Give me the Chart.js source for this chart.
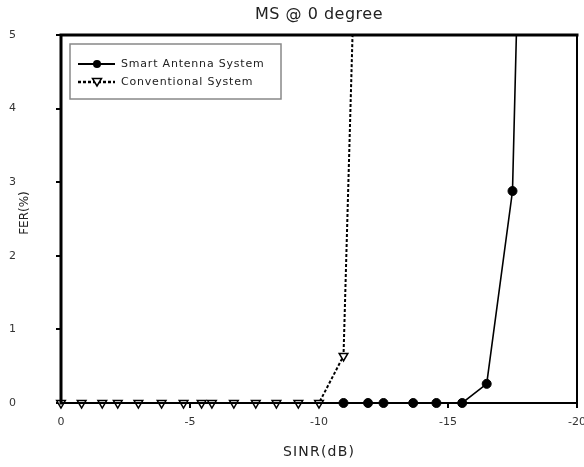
<!DOCTYPE html>
<html><head><meta charset="utf-8">
<script src="https://cdn.jsdelivr.net/npm/chart.js@4.4.0/dist/chart.umd.min.js"></script>
<style>html,body{margin:0;padding:0;background:#fff}#wrap{width:584px;height:467px;position:relative}</style>
</head><body><div id="wrap"><canvas id="c" width="584" height="467"></canvas></div>
<script>
const chartTitle = 'MS @ 0 degree';
const xTitle = 'SINR(dB)';
const yTitle = 'FER(%)';
const seriesNames = ['Smart Antenna System', 'Conventional System'];
const smartX = [-10.95, -11.9, -12.5, -13.65, -14.55, -15.55, -16.5, -17.5, -17.65];
const smartY = [0, 0, 0, 0, 0, 0, 0.26, 2.88, 5];
const convX = [0, -0.8, -1.6, -2.2, -3.0, -3.9, -4.75, -5.45, -5.85, -6.7, -7.55, -8.35, -9.2, -10.0, -10.95, -11.3];
const convY = [0, 0, 0, 0, 0, 0, 0, 0, 0, 0, 0, 0, 0, 0, 0.64, 5];
const xTicks = [0, -5, -10, -15, -20];
const yTicks = [0, 1, 2, 3, 4, 5];

const FONT = "'DejaVu Sans', sans-serif";
const toPts = (xs, ys) => xs.map((x, i) => ({x: x, y: ys[i]}));
const hideTop = c => (c.raw && c.raw.y >= 5) ? 0 : undefined;
const zeroPad = s => { s.paddingTop = 0; s.paddingBottom = 0; s.paddingLeft = 0; s.paddingRight = 0; };

const deco = {
  id: 'deco',
  afterDatasetsDraw(chart) {
    const {ctx, chartArea: a} = chart;
    ctx.save();
    ctx.strokeStyle = '#000';
    ctx.lineCap = 'square';
    ctx.lineWidth = 3;
    ctx.beginPath(); ctx.moveTo(a.left, a.bottom); ctx.lineTo(a.left, a.top); ctx.lineTo(a.right, a.top); ctx.stroke();
    ctx.lineWidth = 2;
    ctx.beginPath(); ctx.moveTo(a.left, a.bottom); ctx.lineTo(a.right, a.bottom); ctx.lineTo(a.right, a.top); ctx.stroke();
    ctx.restore();
  },
  afterDraw(chart) {
    const {ctx, chartArea: a} = chart;
    ctx.save();
    ctx.fillStyle = '#222';
    ctx.font = '16px ' + FONT;
    ctx.letterSpacing = '0.5px';
    ctx.textAlign = 'center';
    ctx.textBaseline = 'middle';
    ctx.fillText(chartTitle, (a.left + a.right) / 2, 15);
    ctx.font = '14px ' + FONT;
    ctx.letterSpacing = '1.2px';
    ctx.fillText(xTitle, (a.left + a.right) / 2, 452);
    ctx.font = '12px ' + FONT;
    ctx.letterSpacing = '0px';
    ctx.save();
    ctx.translate(25, 213);
    ctx.rotate(-Math.PI / 2);
    ctx.fillText(yTitle, 0, 0);
    ctx.restore();
    const L = {x: 70, y: 44, w: 211, h: 55};
    ctx.fillStyle = '#fff';
    ctx.fillRect(L.x, L.y, L.w, L.h);
    ctx.strokeStyle = '#888';
    ctx.lineWidth = 1.5;
    ctx.strokeRect(L.x, L.y, L.w, L.h);
    const rows = [64, 82];
    chart.data.datasets.forEach((ds, i) => {
      const y = rows[i];
      ctx.save();
      ctx.strokeStyle = '#000';
      ctx.lineWidth = ds.borderWidth + 0.5;
      ctx.setLineDash(ds.borderDash || []);
      ctx.beginPath(); ctx.moveTo(78, y); ctx.lineTo(115, y); ctx.stroke();
      ctx.setLineDash([]);
      ctx.fillStyle = ds.pointBackgroundColor;
      ctx.lineWidth = ds.pointBorderWidth;
      if (ds.pointStyle === 'circle') {
        ctx.beginPath(); ctx.arc(97, y, 4, 0, Math.PI * 2); ctx.fill();
      } else {
        ctx.beginPath(); ctx.moveTo(92.5, y - 3.5); ctx.lineTo(101.5, y - 3.5); ctx.lineTo(97, y + 4); ctx.closePath();
        ctx.fill(); ctx.stroke();
      }
      ctx.restore();
      ctx.fillStyle = '#222';
      ctx.font = '11px ' + FONT;
      ctx.letterSpacing = '0.8px';
      ctx.textAlign = 'left';
      ctx.textBaseline = 'middle';
      ctx.fillText(ds.label, 121, y);
    });
    ctx.restore();
  }
};

new Chart(document.getElementById('c'), {
  type: 'line',
  data: {
    datasets: [
      {
        label: seriesNames[0],
        data: toPts(smartX, smartY),
        borderColor: '#000', borderWidth: 1.6,
        pointStyle: 'circle', pointRadius: c => hideTop(c) ?? 4.5,
        pointBackgroundColor: '#000', pointBorderColor: '#000', pointBorderWidth: 1,
        fill: false, tension: 0, clip: 8
      },
      {
        label: seriesNames[1],
        data: toPts(convX, convY),
        borderColor: '#000', borderWidth: 2, borderDash: [3, 2],
        pointStyle: 'triangle', pointRotation: 180, pointRadius: c => hideTop(c) ?? 5,
        pointBackgroundColor: '#fff', pointBorderColor: '#000', pointBorderWidth: 1.5,
        fill: false, tension: 0, clip: 8
      }
    ]
  },
  options: {
    responsive: false,
    animation: false,
    layout: {padding: {left: 0, right: 7, top: 35, bottom: 0}},
    plugins: {legend: {display: false}, title: {display: false}, tooltip: {enabled: false}},
    scales: {
      x: {
        type: 'linear', reverse: true, min: -20, max: 0,
        afterBuildTicks: s => { s.ticks = xTicks.map(v => ({value: v})); },
        afterFit: s => { s.height = 64; zeroPad(s); },
        grid: {drawOnChartArea: false, drawTicks: true, tickLength: 5, color: '#000', lineWidth: 2},
        border: {display: false},
        ticks: {font: {family: FONT, size: 11}, color: '#333', padding: 8, maxRotation: 0}
      },
      y: {
        type: 'linear', min: 0, max: 5,
        afterBuildTicks: s => { s.ticks = yTicks.map(v => ({value: v})); },
        afterFit: s => { s.width = 61; zeroPad(s); },
        grid: {drawOnChartArea: false, drawTicks: true, tickLength: 5, color: '#000', lineWidth: 2},
        border: {display: false},
        ticks: {font: {family: FONT, size: 11}, color: '#333', padding: 40}
      }
    }
  },
  plugins: [deco]
});
</script>
</body></html>
